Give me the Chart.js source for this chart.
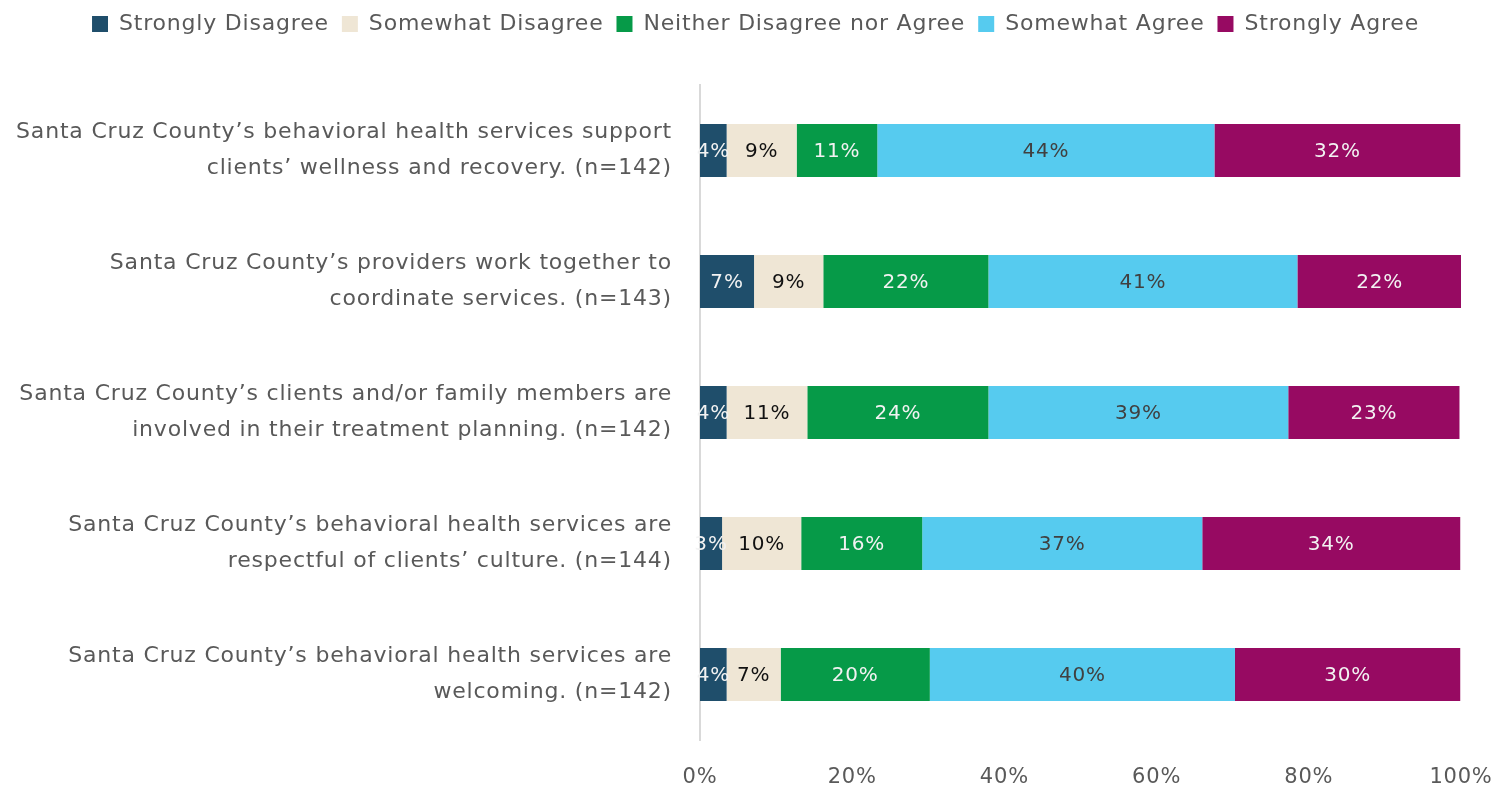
<!DOCTYPE html>
<html>
<head>
<meta charset="utf-8">
<script src="https://cdn.jsdelivr.net/npm/chart.js@4.4.0/dist/chart.umd.min.js"></script>
<style>
  html, body { margin: 0; padding: 0; background: #fff; }
  #wrap { width: 1505px; height: 788px; position: relative; }
</style>
</head>
<body>
<div id="wrap"><canvas id="myChart"></canvas></div>
<script>
const categories = [
	['Santa Cruz County\u2019s behavioral health services support', 'clients\u2019 wellness and recovery. (n=142)'],
	['Santa Cruz County\u2019s providers work together to', 'coordinate services. (n=143)'],
	['Santa Cruz County\u2019s clients and/or family members are', 'involved in their treatment planning. (n=142)'],
	['Santa Cruz County\u2019s behavioral health services are', 'respectful of clients\u2019 culture. (n=144)'],
	['Santa Cruz County\u2019s behavioral health services are', 'welcoming. (n=142)'],
]
const seriesNames = ['Strongly Disagree', 'Somewhat Disagree', 'Neither Disagree nor Agree', 'Somewhat Agree', 'Strongly Agree']
const stronglyDisagree = [3.5, 7.1, 3.5, 2.9, 3.5]
const somewhatDisagree = [9.2, 9.1, 10.6, 10.4, 7.1]
const neither = [10.6, 21.7, 23.8, 15.9, 19.6]
const somewhatAgree = [44.3, 40.6, 39.4, 36.8, 40.1]
const stronglyAgree = [32.3, 21.6, 22.5, 33.9, 29.6]
const xTicks = [0, 20, 40, 60, 80, 100]

const colors = ['#1F4E6B', '#EFE6D5', '#069A48', '#56CBEF', '#970A62']
const labelColors = ['#F2F2F2', '#111111', '#F2F2F2', '#404040', '#F2F2F2']
const FONT = "'DejaVu Sans', sans-serif"
const SPACING = '0.8px'

const barLabels = {
	id: 'barLabels',
	afterDatasetsDraw(chart) {
		const ctx = chart.ctx
		ctx.save()
		ctx.font = '20px ' + FONT
		ctx.textAlign = 'center'
		ctx.textBaseline = 'middle'
		chart.data.datasets.forEach((ds, i) => {
			chart.getDatasetMeta(i).data.forEach((bar, j) => {
				const x = (bar.x + bar.base) / 2
				ctx.fillStyle = labelColors[i]
				ctx.fillText(Math.round(ds.data[j]) + '%', x, bar.y + 1)
			})
		})
		ctx.restore()
	},
}

// wider text, closer to the original font
const spacing = {
	id: 'spacing',
	beforeUpdate(chart) {
		chart.ctx.letterSpacing = SPACING
	},
	beforeDraw(chart) {
		chart.ctx.letterSpacing = SPACING
	},
}

// push the plot down below the legend, and center legend on the full width
const legendGap = {
	id: 'legendGap',
	beforeInit(chart) {
		const fit = chart.legend.fit
		chart.legend.fit = function () {
			fit.bind(this)()
			this.height += 40
		}
	},
	afterLayout(chart) {
		chart.legend.right += 50
	},
}

const allData = [stronglyDisagree, somewhatDisagree, neither, somewhatAgree, stronglyAgree]

new Chart(document.getElementById('myChart').getContext('2d'), {
	type: 'bar',
	data: {
		labels: categories,
		datasets: seriesNames.map((name, i) => ({
			label: name,
			data: allData[i],
			backgroundColor: colors[i],
			borderWidth: 0,
			barPercentage: 0.405,
			categoryPercentage: 1,
		})),
	},
	options: {
		indexAxis: 'y',
		responsive: true,
		maintainAspectRatio: false,
		animation: false,
		layout: { padding: { left: 0, right: 44, top: 0, bottom: 0 } },
		plugins: {
			legend: {
				position: 'top',
				labels: {
					boxWidth: 16,
					boxHeight: 16,
					padding: 13,
					color: '#595959',
					font: { family: FONT, size: 22 },
				},
			},
			tooltip: { enabled: false },
		},
		scales: {
			x: {
				stacked: true,
				min: 0,
				max: 100,
				grid: { display: false },
				border: { display: false },
				ticks: {
					stepSize: 20,
					color: '#595959',
					font: { family: FONT, size: 21 },
					padding: 17,
					callback: (v) => (xTicks.includes(v) ? v + '%' : ''),
				},
				afterFit(scale) {
					scale.paddingLeft = 0
					scale.paddingRight = 0
					scale.height = 48
				},
			},
			y: {
				stacked: true,
				grid: { display: false },
				border: { display: true, color: '#D9D9D9', width: 2 },
				ticks: {
					color: '#595959',
					font: { family: FONT, size: 22, lineHeight: 1.62 },
					padding: 20,
				},
				afterFit(scale) {
					scale.width = 700
					scale.paddingTop = 0
					scale.paddingBottom = 0
				},
			},
		},
	},
	plugins: [spacing, barLabels, legendGap],
})
</script>
</body>
</html>
